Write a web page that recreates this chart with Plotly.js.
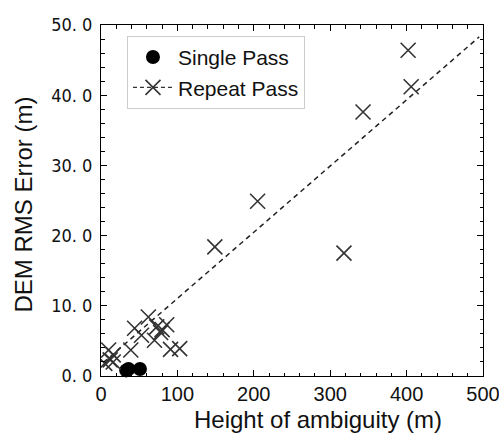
<!DOCTYPE html>
<html>
<head>
<meta charset="utf-8">
<script src="https://cdn.plot.ly/plotly-3.0.1.min.js"></script>
<style>html,body{margin:0;padding:0;background:#fff;}#chart{width:499px;height:435px;}</style>
</head>
<body>
<div id="chart"></div>
<script>
// Single pass (filled circles)
const singleX = [33, 36, 51];
const singleY = [0.8, 1.0, 1.0];
// Repeat pass (crosses)
const repeatX = [5, 10, 12, 16, 16, 39, 44, 53, 62, 70, 73, 78, 80, 86, 91, 103, 149, 205, 318, 343, 402, 406];
const repeatY = [1.8, 3.7, 2.3, 3.0, 2.0, 3.7, 6.8, 5.8, 8.4, 5.1, 7.0, 6.2, 6.6, 7.3, 3.8, 3.9, 18.4, 24.9, 17.5, 37.6, 46.4, 41.2];
// Fitted line for repeat pass
const fitX = [3, 495];
const fitY = [1.9, 48.3];
// Axis tick labels
const yTickVals = [0, 10, 20, 30, 40, 50];
const yTickText = ['0. 0', '10. 0', '20. 0', '30. 0', '40. 0', '50. 0'];
const xTitle = 'Height of ambiguity (m)';
const yTitle = 'DEM RMS Error (m)';

// interleave nulls so markers are not joined, while the legend shows line + marker
const gx = [], gy = [];
repeatX.forEach((v, i) => { gx.push(v, null); gy.push(repeatY[i], null); });

const traces = [
  {
    x: singleX, y: singleY, type: 'scatter', mode: 'markers', name: 'Single Pass',
    marker: {symbol: 'circle', size: 14, color: '#000'}, cliponaxis: false
  },
  {
    x: fitX, y: fitY, type: 'scatter', mode: 'lines', showlegend: false, hoverinfo: 'skip',
    line: {color: '#222', width: 1.5, dash: '5px,4px'}
  },
  {
    x: gx, y: gy, type: 'scatter', mode: 'lines+markers', name: 'Repeat Pass', connectgaps: false,
    line: {color: '#333', width: 1.2, dash: '4px,3px'},
    marker: {symbol: 'x-thin-open', size: 15, color: '#333', line: {color: '#333', width: 1.6}}
  }
];

const sans = 'Liberation Sans, Arial, sans-serif';
const layout = {
  width: 499, height: 435,
  margin: {l: 101, r: 16, t: 25, b: 59},
  paper_bgcolor: '#fff', plot_bgcolor: '#fff',
  showlegend: true,
  legend: {
    x: 0.068, y: 0.969, xanchor: 'left', yanchor: 'top',
    bgcolor: '#fff', bordercolor: '#ccc', borderwidth: 1,
    font: {family: sans, size: 21, color: '#111'},
    itemwidth: 40
  },
  xaxis: {
    range: [0, 500], dtick: 100, tick0: 0,
    ticks: 'inside', ticklen: 6, tickwidth: 1, tickcolor: '#000',
    showline: true, linecolor: '#000', linewidth: 1, mirror: 'ticks',
    showgrid: false, zeroline: false, ticklabeloverflow: 'allow',
    minor: {dtick: 20, ticks: 'inside', ticklen: 3.5, tickcolor: '#000', showgrid: false},
    tickfont: {family: sans, size: 20, color: '#111'}
  },
  yaxis: {
    range: [0, 50], tickmode: 'array', tickvals: yTickVals, ticktext: yTickText,
    ticks: 'inside', ticklen: 6, tickwidth: 1, tickcolor: '#000',
    showline: true, linecolor: '#000', linewidth: 1, mirror: 'ticks',
    showgrid: false, zeroline: false, ticklabelstandoff: 4, ticklabeloverflow: 'allow',
    minor: {dtick: 2, ticks: 'inside', ticklen: 3.5, tickcolor: '#000', showgrid: false},
    tickfont: {family: 'Liberation Sans Narrow, DejaVu Sans Condensed, Arial Narrow, sans-serif', size: 18, color: '#111'}
  },
  annotations: [
    {text: xTitle, xref: 'paper', yref: 'paper', x: 0.568, y: -0.125, xanchor: 'center', yanchor: 'middle',
     showarrow: false, font: {family: sans, size: 24, color: '#111'}},
    {text: yTitle, xref: 'paper', yref: 'paper', x: -0.2029, y: 0.49, xanchor: 'center', yanchor: 'middle',
     textangle: -90, showarrow: false, font: {family: sans, size: 24, color: '#111'}}
  ]
};

Plotly.newPlot('chart', traces, layout, {displayModeBar: false, staticPlot: true});
</script>
</body>
</html>
